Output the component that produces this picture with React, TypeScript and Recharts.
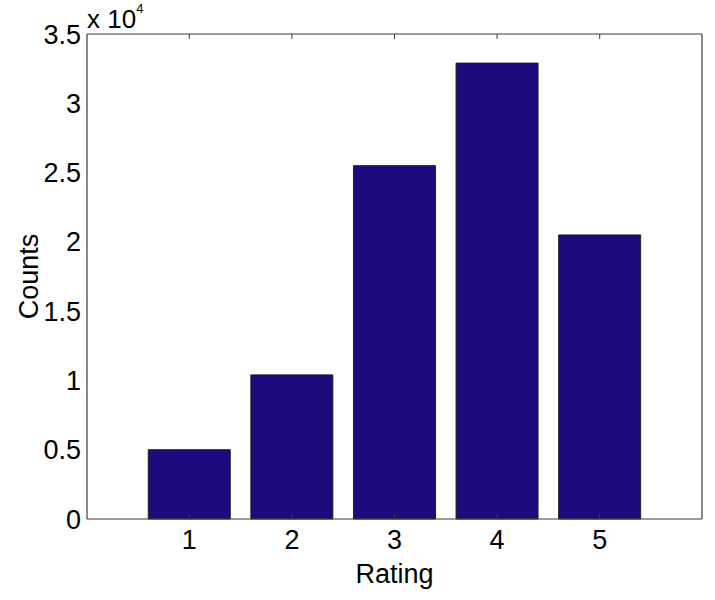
import React from 'react';
import { BarChart, Bar, XAxis, YAxis } from 'recharts';

const categories = ['1', '2', '3', '4', '5'];
const counts = [5000, 10400, 25500, 32900, 20500];
const yTicks = [0, 5000, 10000, 15000, 20000, 25000, 30000, 35000];
const yLabel = 'Counts';
const xLabel = 'Rating';
const exponentBase = 'x 10';
const exponentPower = '4';

const data = categories.map((c, i) => ({ rating: c, count: counts[i] }));

const FONT = '"Liberation Sans", Arial, Helvetica, sans-serif';
const AXIS = '#3a3a3a';
const BAR = '#1b0b7e';

const tickStyle = { fontFamily: FONT, fontSize: 27, fill: '#000' };

const EmptyTick = () => <g />;

const YLabelContent = (props: any) => {
  const vb = props.viewBox || { x: 0, y: 34, width: 87, height: 485 };
  const cx = vb.x + 38;
  const cy = vb.y + vb.height / 2;
  return (
    <g>
      <text
        x={cx}
        y={cy}
        transform={`rotate(-90 ${cx} ${cy})`}
        textAnchor="middle"
        fontFamily={FONT}
        fontSize={27}
        fill="#000"
      >
        {yLabel}
      </text>
      <text x={vb.x + vb.width} y={vb.y - 6} fontFamily={FONT} fontSize={26} fill="#000">
        {exponentBase}
        <tspan fontSize={13} dy={-15}>{exponentPower}</tspan>
      </text>
    </g>
  );
};

const XLabelContent = (props: any) => {
  const vb = props.viewBox || { x: 87, y: 519, width: 615, height: 81 };
  return (
    <text
      x={vb.x + vb.width / 2}
      y={vb.y + 64}
      textAnchor="middle"
      fontFamily={FONT}
      fontSize={27}
      fill="#000"
    >
      {xLabel}
    </text>
  );
};

export default function App() {
  const pad = { left: 51, right: 51 };
  return (
    <div style={{ position: 'absolute', left: 0, top: 0, background: '#fff' }}>
      <BarChart
        width={715}
        height={600}
        data={data}
        margin={{ top: 34, right: 13, bottom: 0, left: 0 }}
        barCategoryGap="10%"
      >
        <XAxis
          xAxisId="main"
          dataKey="rating"
          orientation="bottom"
          height={81}
          padding={pad}
          axisLine={{ stroke: AXIS, strokeWidth: 1.2 }}
          tickLine={false}
          tickSize={0}
          tickMargin={11}
          tick={tickStyle}
          label={XLabelContent}
        />
        <XAxis
          xAxisId="bottomTicks"
          dataKey="rating"
          orientation="bottom"
          mirror
          padding={pad}
          axisLine={false}
          tick={EmptyTick}
          tickSize={5}
          tickLine={{ stroke: AXIS }}
        />
        <XAxis
          xAxisId="top"
          dataKey="rating"
          orientation="top"
          mirror
          padding={pad}
          axisLine={{ stroke: AXIS, strokeWidth: 1.2 }}
          tick={EmptyTick}
          tickSize={5}
          tickLine={{ stroke: AXIS }}
        />
        <YAxis
          yAxisId="main"
          orientation="left"
          width={87}
          domain={[0, 35000]}
          ticks={yTicks}
          interval={0}
          tickFormatter={(v: number) => String(v / 10000)}
          axisLine={{ stroke: AXIS, strokeWidth: 1.2 }}
          tickLine={false}
          tickSize={0}
          tickMargin={6}
          tick={tickStyle}
          label={YLabelContent}
        />
        <YAxis
          yAxisId="leftTicks"
          orientation="left"
          mirror
          domain={[0, 35000]}
          ticks={yTicks}
          interval={0}
          axisLine={false}
          tick={EmptyTick}
          tickSize={5}
          tickLine={{ stroke: AXIS }}
        />
        <YAxis
          yAxisId="right"
          orientation="right"
          mirror
          domain={[0, 35000]}
          ticks={yTicks}
          interval={0}
          axisLine={{ stroke: AXIS, strokeWidth: 1.2 }}
          tick={EmptyTick}
          tickSize={5}
          tickLine={{ stroke: AXIS }}
        />
        <Bar
          xAxisId="main"
          yAxisId="main"
          dataKey="count"
          fill={BAR}
          stroke="#222"
          strokeWidth={1}
          isAnimationActive={false}
        />
      </BarChart>
    </div>
  );
}
